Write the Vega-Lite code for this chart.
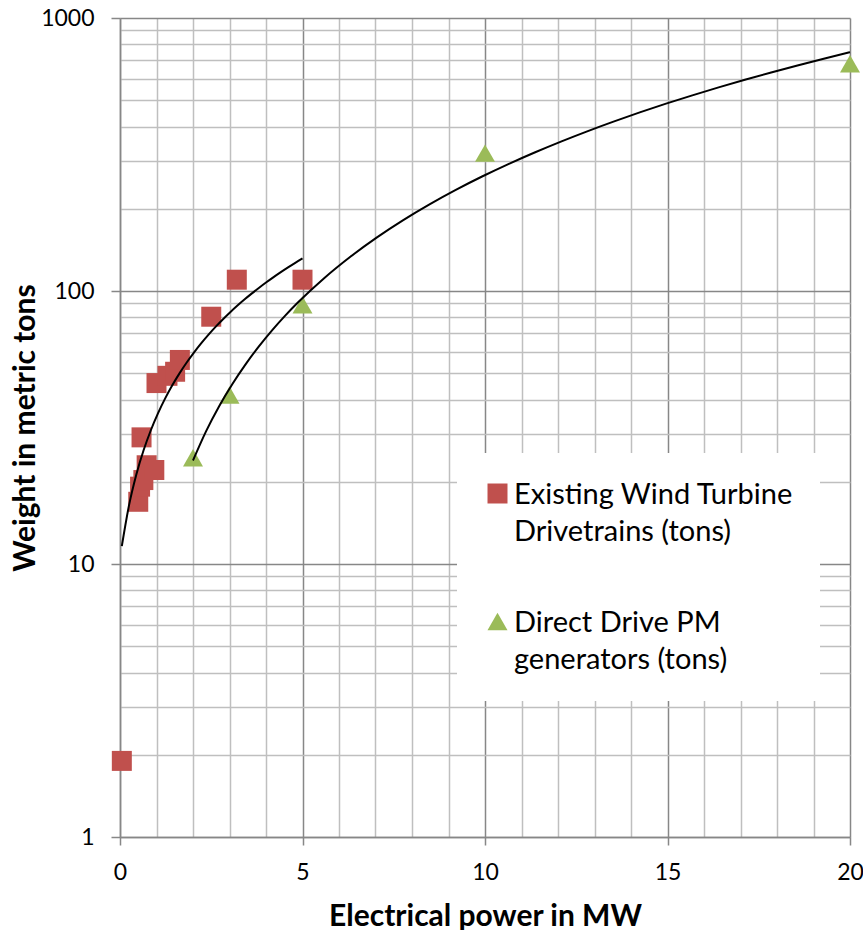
{
  "$schema": "https://vega.github.io/schema/vega-lite/v6.json",
  "width": 730,
  "height": 819,
  "autosize": {"type": "none"},
  "padding": {"left": 120, "top": 18, "right": 13, "bottom": 93},
  "background": "white",
  "config": {"view": {"stroke": null}, "font": "Lato"},
  "data": {
    "values": [
      {"series": "Existing Wind Turbine Drivetrains (tons)", "power": 0.05, "weight": 1.9},
      {"series": "Existing Wind Turbine Drivetrains (tons)", "power": 0.5, "weight": 16.9},
      {"series": "Existing Wind Turbine Drivetrains (tons)", "power": 0.55, "weight": 19.2},
      {"series": "Existing Wind Turbine Drivetrains (tons)", "power": 0.64, "weight": 20.3},
      {"series": "Existing Wind Turbine Drivetrains (tons)", "power": 0.73, "weight": 23},
      {"series": "Existing Wind Turbine Drivetrains (tons)", "power": 0.94, "weight": 22.1},
      {"series": "Existing Wind Turbine Drivetrains (tons)", "power": 0.59, "weight": 29.1},
      {"series": "Existing Wind Turbine Drivetrains (tons)", "power": 1.0, "weight": 46},
      {"series": "Existing Wind Turbine Drivetrains (tons)", "power": 1.3, "weight": 48.9},
      {"series": "Existing Wind Turbine Drivetrains (tons)", "power": 1.51, "weight": 50.6},
      {"series": "Existing Wind Turbine Drivetrains (tons)", "power": 1.64, "weight": 55.9},
      {"series": "Existing Wind Turbine Drivetrains (tons)", "power": 2.5, "weight": 80.5},
      {"series": "Existing Wind Turbine Drivetrains (tons)", "power": 3.2, "weight": 110},
      {"series": "Existing Wind Turbine Drivetrains (tons)", "power": 5, "weight": 110},
      {"series": "Direct Drive PM generators (tons)", "power": 2, "weight": 24.5},
      {"series": "Direct Drive PM generators (tons)", "power": 3, "weight": 41.6},
      {"series": "Direct Drive PM generators (tons)", "power": 5, "weight": 89},
      {"series": "Direct Drive PM generators (tons)", "power": 10, "weight": 320},
      {"series": "Direct Drive PM generators (tons)", "power": 20, "weight": 680}
    ]
  },
  "encoding": {
    "x": {
      "field": "power",
      "type": "quantitative",
      "scale": {"domain": [0, 20], "nice": false, "zero": false},
      "axis": {
        "title": "Electrical power in MW",
        "values": [0,1,2,3,4,5,6,7,8,9,10,11,12,13,14,15,16,17,18,19,20],
        "format": "d",
        "labelExpr": "datum.value % 5 === 0 ? datum.label : ''",
        "grid": true,
        "gridColor": {"condition": {"test": "datum.value % 5 === 0", "value": "#878787"}, "value": "#BFBFBF"},
        "gridWidth": 1.5,
        "tickOpacity": {"condition": {"test": "datum.value % 5 === 0", "value": 1}, "value": 0},
        "tickColor": "#878787",
        "tickSize": 8,
        "tickWidth": 1.5,
        "domainColor": "#878787",
        "domainWidth": 1.5,
        "labelFont": "Lato",
        "labelFontSize": 23,
        "labelColor": "#000000",
        "labelPadding": 16,
        "labelFlush": false,
        "labelOverlap": false,
        "labelBound": false,
        "titleFont": "Lato",
        "titleFontSize": 30,
        "titleFontWeight": "bold",
        "titleColor": "#000000",
        "titleY": 88,
        "titleBaseline": "alphabetic"
      }
    },
    "y": {
      "field": "weight",
      "type": "quantitative",
      "scale": {"type": "log", "domain": [1, 1000], "nice": false},
      "axis": {
        "title": "Weight in metric tons",
        "values": [1,2,3,4,5,6,7,8,9,10,20,30,40,50,60,70,80,90,100,200,300,400,500,600,700,800,900,1000],
        "format": "d",
        "labelExpr": "indexof([1,10,100,1000], datum.value) >= 0 ? datum.label : ''",
        "grid": true,
        "gridColor": {"condition": {"test": "indexof([1,10,100,1000], datum.value) >= 0", "value": "#878787"}, "value": "#BFBFBF"},
        "gridWidth": 1.5,
        "tickOpacity": {"condition": {"test": "indexof([1,10,100,1000], datum.value) >= 0", "value": 1}, "value": 0},
        "tickColor": "#878787",
        "tickSize": 9,
        "tickWidth": 1.5,
        "domainColor": "#878787",
        "domainWidth": 1.5,
        "labelFont": "Lato",
        "labelFontSize": 23,
        "labelColor": "#000000",
        "labelPadding": 17,
        "labelOverlap": false,
        "labelBound": false,
        "labelFlush": false,
        "titleFont": "Lato",
        "titleFontSize": 30,
        "titleFontWeight": "bold",
        "titleColor": "#000000",
        "titleX": -86,
        "titleBaseline": "alphabetic"
      }
    }
  },
  "layer": [
    {
      "mark": {"type": "point", "filled": true, "opacity": 1, "size": 400, "strokeWidth": 0},
      "encoding": {
        "color": {
          "field": "series",
          "type": "nominal",
          "scale": {
            "domain": ["Existing Wind Turbine Drivetrains (tons)", "Direct Drive PM generators (tons)"],
            "range": ["#C0504D", "#9BBB59"]
          },
          "legend": {
            "title": null,
            "orient": "none",
            "legendX": 337,
            "legendY": 435,
            "fillColor": "white",
            "padding": 26,
            "symbolSize": 400,
            "symbolStrokeWidth": 0,
            "symbolOpacity": 1,
            "labelFont": "Lato",
            "labelFontSize": 29,
            "labelColor": "#000000",
            "labelBaseline": "alphabetic",
            "labelOffset": 2,
            "labelLimit": 500,
            "rowPadding": 60,
            "labelExpr": "datum.label === 'Existing Wind Turbine Drivetrains (tons)' ? ['Existing Wind Turbine', 'Drivetrains (tons)'] : ['Direct Drive PM', 'generators (tons)']",
            "encode": {"labels": {"update": {"lineHeight": {"value": 37}, "dy": {"value": 10}}}}
          }
        },
        "shape": {
          "field": "series",
          "type": "nominal",
          "scale": {
            "domain": ["Existing Wind Turbine Drivetrains (tons)", "Direct Drive PM generators (tons)"],
            "range": ["square", "triangle-up"]
          }
        }
      }
    },
    {
      "transform": [
        {"filter": "datum.series === 'Existing Wind Turbine Drivetrains (tons)'"},
        {"regression": "weight", "on": "power", "method": "poly", "order": 1}
      ],
      "mark": {"type": "line", "color": "black", "strokeWidth": 2, "interpolate": "monotone"},
      "encoding": {}
    },
    {
      "transform": [
        {"filter": "datum.series === 'Direct Drive PM generators (tons)'"},
        {"regression": "weight", "on": "power", "method": "pow"}
      ],
      "mark": {"type": "line", "color": "black", "strokeWidth": 2, "interpolate": "monotone"},
      "encoding": {}
    }
  ]
}
